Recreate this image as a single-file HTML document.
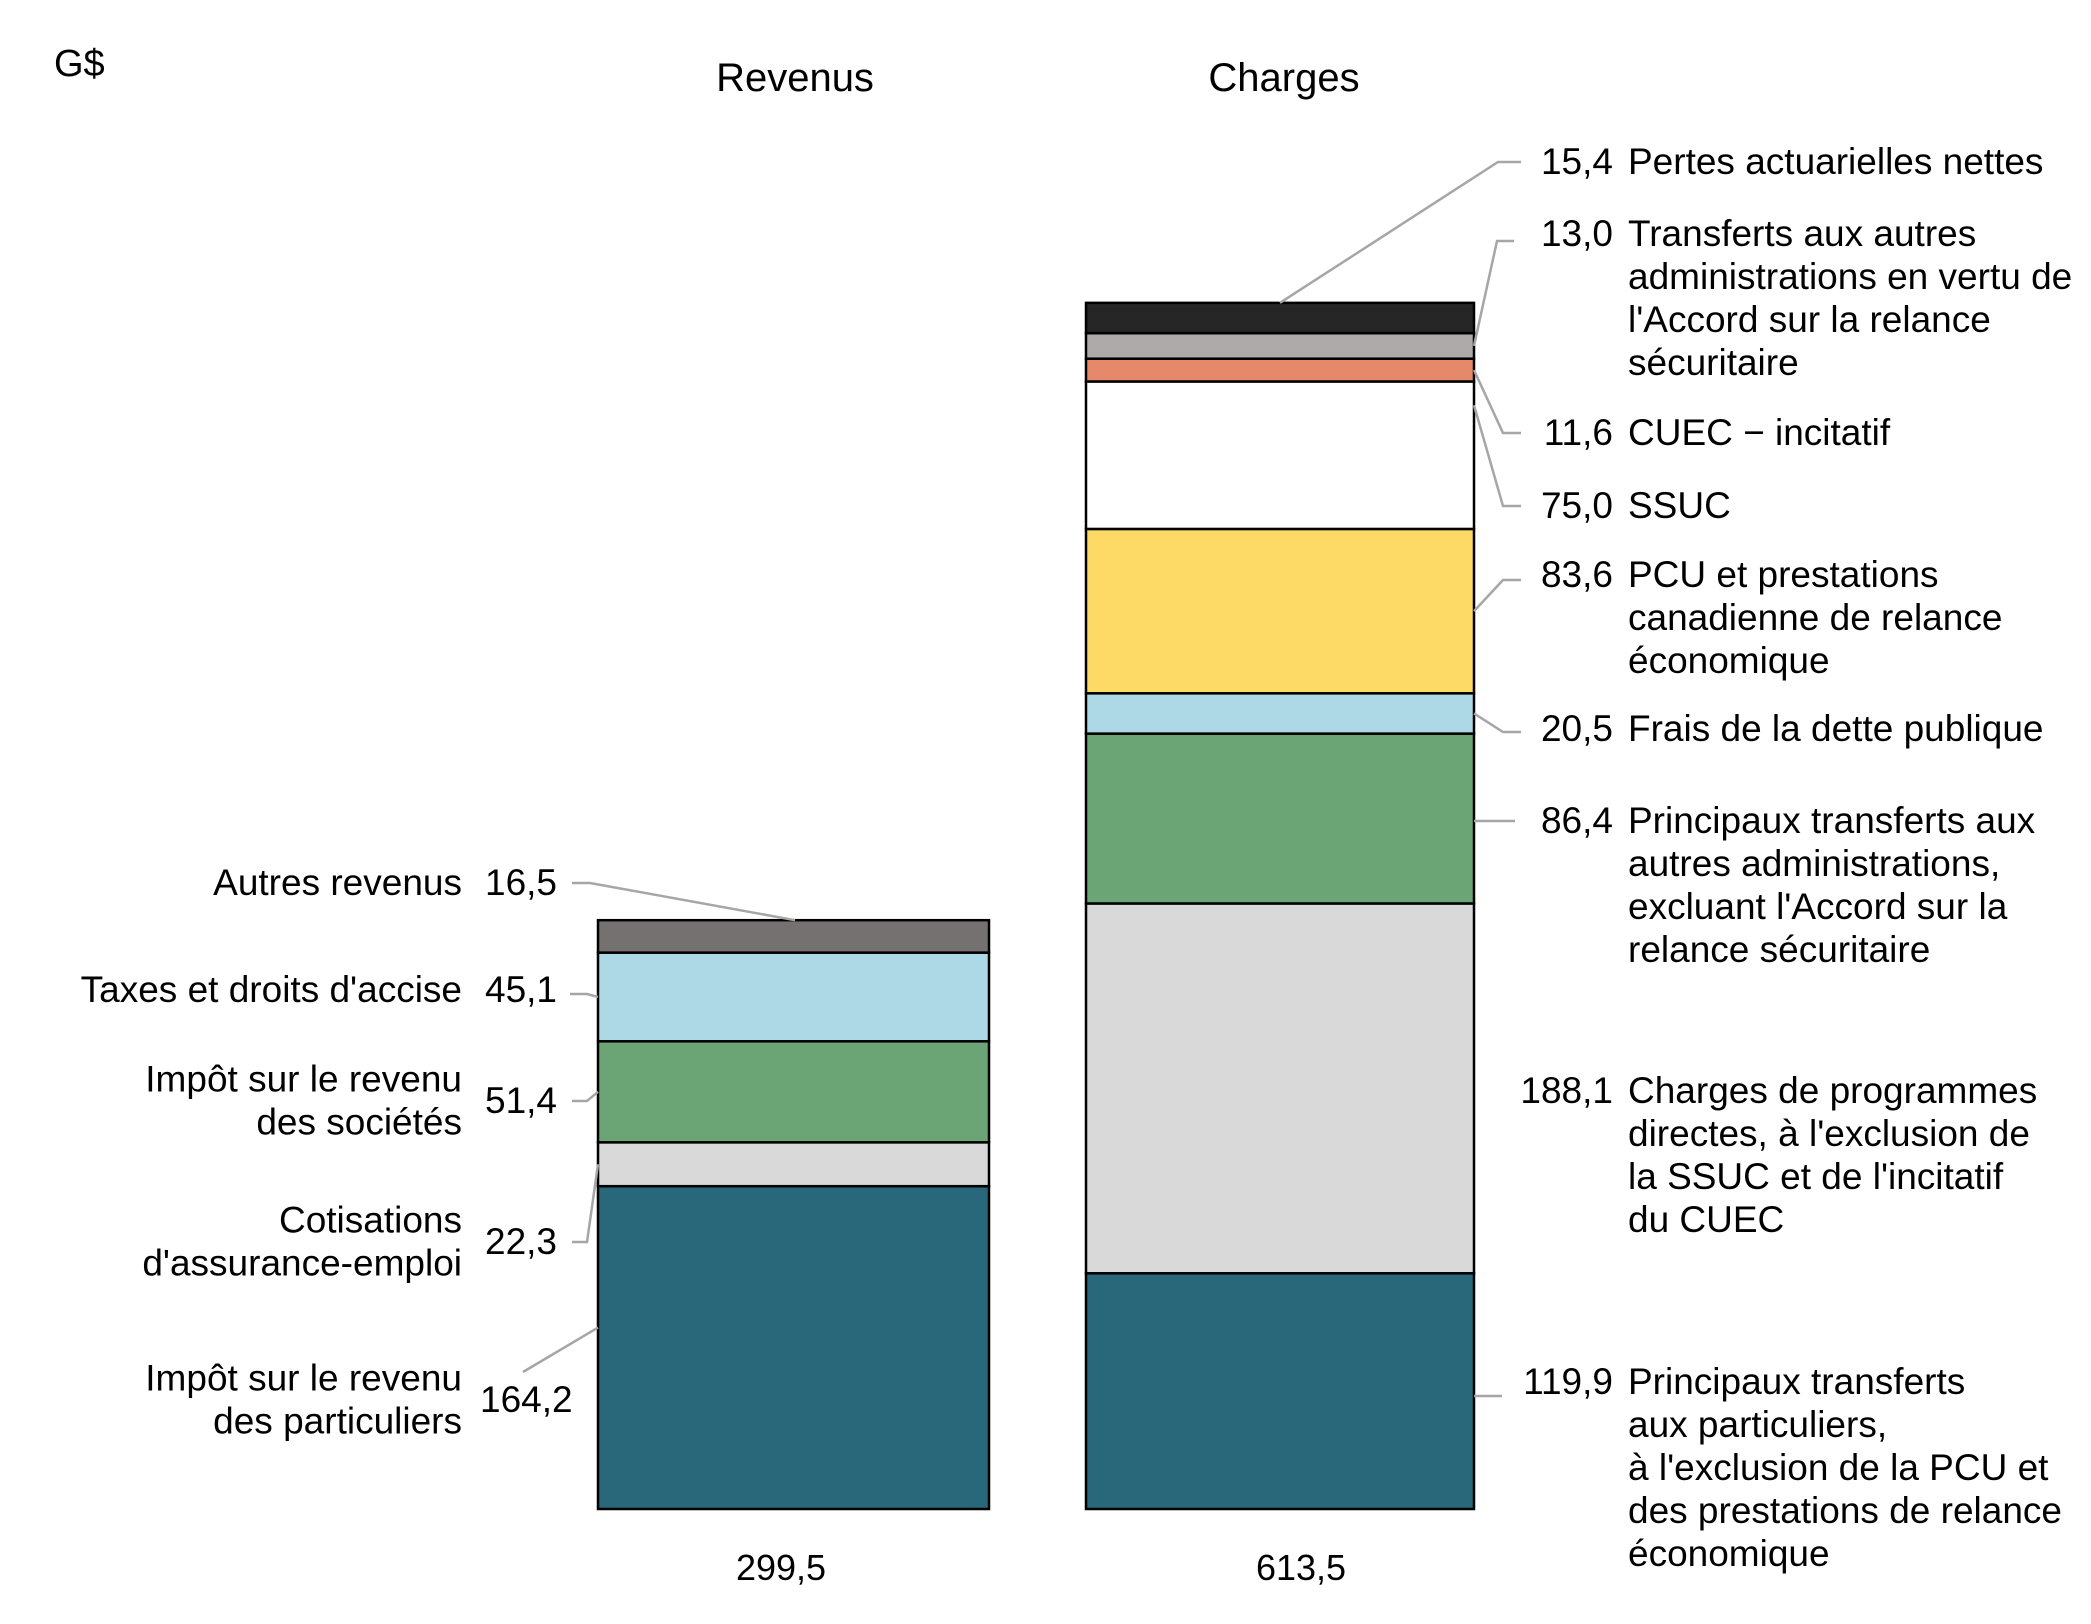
<!DOCTYPE html>
<html><head><meta charset="utf-8"><style>
html,body{margin:0;padding:0;background:#fff;}
svg{display:block;font-family:"Liberation Sans",Arial,sans-serif;}
</style></head><body>
<svg id="chart" width="2091" height="1624" viewBox="0 0 2091 1624" xmlns="http://www.w3.org/2000/svg">
<text x="54" y="76" font-size="38">G$</text>
<g id="bars"></g><g id="leaders"></g><g id="labels"></g>
</svg>
<script>
const revValues = [164.2, 22.3, 51.4, 45.1, 16.5];
const revLabels = ["164,2","22,3","51,4","45,1","16,5"];
const chgValues = [119.9, 188.1, 86.4, 20.5, 83.6, 75.0, 11.6, 13.0, 15.4];
const chgLabels = ["119,9","188,1","86,4","20,5","83,6","75,0","11,6","13,0","15,4"];
const totals = ["299,5","613,5"];
const revColors = ["#28687A","#D9D9D9","#6BA576","#ADD8E6","#767171"];
const chgColors = ["#28687A","#D9D9D9","#6BA576","#ADD8E6","#FDD966","#FFFFFF","#E5896A","#AEAAAA","#262626"];
const NS="http://www.w3.org/2000/svg";
const svg=document.getElementById('chart');
const base=1509, k=1.966;
function y(v){return base - v*k;}
function mk(tag,attrs,parent){const e=document.createElementNS(NS,tag);for(const a in attrs)e.setAttribute(a,attrs[a]);parent.appendChild(e);return e;}
const gb=document.getElementById('bars'), gl=document.getElementById('leaders'), gt=document.getElementById('labels');
function txt(x,yy,s,anchor,size,name){const t=mk('text',{x:x,y:yy,'font-size':size||37,'text-anchor':anchor||'start'},gt);t.textContent=s;


return t;}
function stack(vals,colors,x0,w,prefix){let c=0;const mids=[];let top=0;
 vals.forEach((v,i)=>{const y1=y(c+v),y0=y(c);
  const r=mk('rect',{x:x0,y:y1,width:w,height:y0-y1,fill:colors[i],stroke:'#000','stroke-width':2.5},gb);
  
  
  mids.push((y0+y1)/2);c+=v;top=y1;});
 return {mids,top};}
const R=stack(revValues,revColors,598,391,'revenue');
const C=stack(chgValues,chgColors,1086,388,'charges');
txt(795,91,"Revenus","middle",40,'revenue-title');
txt(1284,91,"Charges","middle",40,'charges-title');
txt(781,1580,totals[0],"middle",36,'revenue-total');
txt(1301,1580,totals[1],"middle",36,'charges-total');
function line(pts,name){const p=mk('polyline',{points:pts.map(q=>q.join(',')).join(' '),fill:'none',stroke:'#A6A6A6','stroke-width':2.5},gl);
 
 }
const revText=[["Impôt sur le revenu","des particuliers"],["Cotisations","d'assurance-emploi"],["Impôt sur le revenu","des sociétés"],["Taxes et droits d'accise"],["Autres revenus"]];
const revY=[1400,1242,1101,990,883];
revText.forEach((lines,i)=>{const cy=revY[i];const n=lines.length;
 lines.forEach((s,j)=>txt(462,cy+12+(j-(n-1)/2)*43,s,"end",37,'revenue-label-'+i));
 txt(i==0?480:485,cy+12,revLabels[i],"start",37,'revenue-value-'+i);});
line([[572,883],[590,883],[795,R.top]],'leader-autres');
line([[570,994],[587,994],[598,R.mids[3]]],'leader-taxes');
line([[572,1101],[587,1101],[598,R.mids[2]]],'leader-societes');
line([[572,1242],[587,1242],[598,R.mids[1]]],'leader-ae');
line([[523,1372],[598,R.mids[0]-20]],'leader-particuliers');
const chgText=[["Principaux transferts","aux particuliers,","à l'exclusion de la PCU et","des prestations de relance","économique"],
["Charges de programmes","directes, à l'exclusion de","la SSUC et de l'incitatif","du CUEC"],
["Principaux transferts aux","autres administrations,","excluant l'Accord sur la","relance sécuritaire"],
["Frais de la dette publique"],["PCU et prestations","canadienne de relance","économique"],["SSUC"],["CUEC − incitatif"],
["Transferts aux autres","administrations en vertu de","l'Accord sur la relance","sécuritaire"],["Pertes actuarielles nettes"]];
const chgY=[1382,1091,821,729,575,506,433,234,162];
chgText.forEach((lines,i)=>{const y0=chgY[i];
 lines.forEach((s,j)=>txt(1628,y0+12+j*43,s,"start",37,'charges-label-'+i));
 txt(1613,y0+12,chgLabels[i],"end",37,'charges-value-'+i);});
line([[1521,162],[1498,162],[1280,C.top]],'leader-pertes');
line([[1514,241],[1497,241],[1474,C.mids[7]]],'leader-transferts-accord');
line([[1521,433],[1503,433],[1474,C.mids[6]]],'leader-cuec');
line([[1521,506],[1503,506],[1474,C.mids[5]-50]],'leader-ssuc');
line([[1521,580],[1503,580],[1474,C.mids[4]]],'leader-pcu');
line([[1521,732],[1503,732],[1474,C.mids[3]]],'leader-dette');
line([[1474,821],[1515,821]],'leader-transferts-admin');
line([[1474,1396],[1502,1396]],'leader-particuliers-charges');
</script>
</body></html>
